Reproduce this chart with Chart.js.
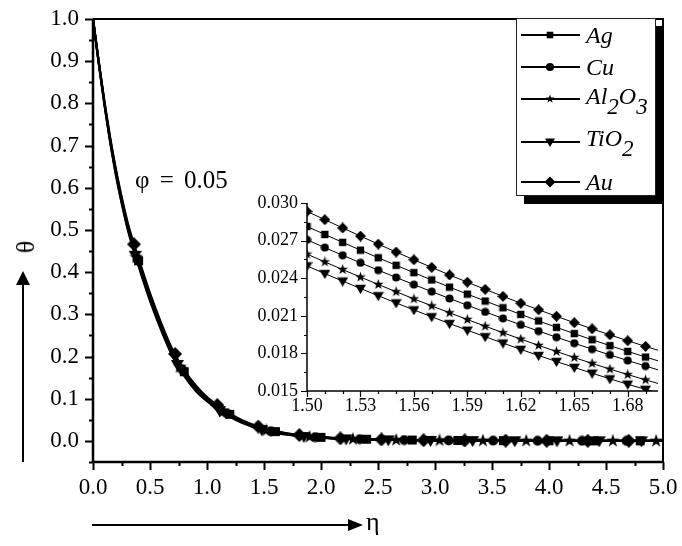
<!DOCTYPE html>
<html>
<head>
<meta charset="utf-8">
<script src="https://cdn.jsdelivr.net/npm/chart.js@4.4.1/dist/chart.umd.min.js"></script>
<style>
  body { margin: 0; background: #fff; }
  #wrap { position: relative; width: 682px; height: 546px; overflow: hidden;
          font-family: "Liberation Serif", "Times New Roman", serif; color: #000; }
  #main { position: absolute; left: 0; top: 0; }
  #inset { position: absolute; left: 240px; top: 191px; }
  #legend { position: absolute; left: 516px; top: 18px; width: 138px; height: 176px;
            background: #fff; border: 1px solid #222; box-shadow: 8px 8px 0 #000; }
  .row { position: absolute; left: 3px; height: 24px; display: flex; align-items: center; white-space: nowrap; }
  .row span { font-style: italic; font-size: 24px; line-height: 24px; margin-left: 4px; position: relative; }
  .row sub { font-size: 23px; vertical-align: baseline; position: relative; top: 0.45em; line-height: 0; }
  .txt { position: absolute; line-height: 1; white-space: nowrap; }
</style>
</head>
<body>
<div id="wrap">
  <canvas id="main" width="682" height="546"></canvas>
  <canvas id="inset" width="422" height="224"></canvas>
  <div id="legend"></div>
  <div class="txt" id="phi" style="left:135px;top:167px;font-size:25px;word-spacing:4px;">φ = 0.05</div>
  <div class="txt" style="left:26px;top:247px;font-size:26px;transform:translate(-50%,-50%) rotate(-90deg);">θ</div>
  <div class="txt" style="left:366px;top:509px;font-size:26px;">η</div>
</div>
<script>
// main curves, theta(eta)
const ETA = [0, 0.05, 0.1, 0.15, 0.2, 0.25, 0.3, 0.35, 0.4, 0.5, 0.6, 0.7, 0.8, 0.9, 1.0, 1.1, 1.2, 1.3, 1.4,
             1.5, 1.6, 1.7, 1.8, 1.9, 2.0, 2.25, 2.5, 2.75, 3.0, 3.5, 4.0, 4.5, 5.0];
const THETA_AG  = [1, 0.899, 0.803, 0.717, 0.642, 0.576, 0.518, 0.470, 0.427, 0.345, 0.274, 0.211, 0.164, 0.129, 0.101, 0.081, 0.063, 0.048, 0.0376,
                   0.0281, 0.0220, 0.0172, 0.0135, 0.0106, 0.0084, 0.0052, 0.0033, 0.0021, 0.0014, 0.0006, 0.0003, 0.0001, 0];
const THETA_CU  = [1, 0.898, 0.801, 0.714, 0.638, 0.572, 0.514, 0.465, 0.423, 0.341, 0.269, 0.207, 0.161, 0.126, 0.099, 0.078, 0.061, 0.0467, 0.0362,
                   0.0271, 0.0211, 0.0165, 0.0129, 0.0101, 0.0080, 0.0049, 0.0031, 0.0020, 0.0013, 0.0006, 0.0002, 0.0001, 0];
const THETA_AL  = [1, 0.896, 0.799, 0.711, 0.635, 0.568, 0.509, 0.461, 0.418, 0.336, 0.265, 0.203, 0.157, 0.122, 0.096, 0.076, 0.059, 0.0451, 0.0349,
                   0.0259, 0.0201, 0.0156, 0.0122, 0.0096, 0.0076, 0.0046, 0.0029, 0.0019, 0.0012, 0.0005, 0.0002, 0.0001, 0];
const THETA_TI  = [1, 0.895, 0.797, 0.709, 0.631, 0.565, 0.506, 0.457, 0.414, 0.332, 0.261, 0.199, 0.154, 0.119, 0.094, 0.074, 0.057, 0.0436, 0.0336,
                   0.0250, 0.0192, 0.0149, 0.0117, 0.0091, 0.0072, 0.0044, 0.0027, 0.0018, 0.0011, 0.0005, 0.0002, 0.0001, 0];
const THETA_AU  = [1, 0.900, 0.805, 0.720, 0.645, 0.580, 0.522, 0.474, 0.432, 0.350, 0.278, 0.215, 0.168, 0.132, 0.104, 0.083, 0.065, 0.050, 0.039,
                   0.0293, 0.0231, 0.0181, 0.0142, 0.0112, 0.0089, 0.0055, 0.0035, 0.0023, 0.0015, 0.0007, 0.0003, 0.0001, 0];

// where the symbols sit on each main curve
const MARK_ETA_AG = [0.40, 0.80, 1.20, 1.60, 2.00, 2.40, 2.80, 3.20, 3.60, 4.00, 4.40, 4.80];
const MARK_TH_AG  = [0.427, 0.164, 0.063, 0.022, 0.0084, 0.004, 0.002, 0.0011, 0.0006, 0.0003, 0.0001, 0.0001];
const MARK_ETA_CU = [0.39, 0.78, 1.17, 1.56, 1.95, 2.34, 2.73, 3.12, 3.51, 3.90, 4.29, 4.68];
const MARK_TH_CU  = [0.431, 0.170, 0.066, 0.023, 0.009, 0.0042, 0.002, 0.0012, 0.0006, 0.0003, 0.0001, 0.0001];
const MARK_ETA_AL = [0.38, 0.76, 1.14, 1.52, 1.90, 2.28, 2.66, 3.04, 3.42, 3.80, 4.18, 4.56, 4.94];
const MARK_TH_AL  = [0.435, 0.175, 0.069, 0.0247, 0.0096, 0.0043, 0.0022, 0.0012, 0.0006, 0.0003, 0.0002, 0.0001, 0];
const MARK_ETA_TI = [0.37, 0.74, 1.11, 1.48, 1.85, 2.22, 2.59, 2.96, 3.33, 3.70, 4.07, 4.44, 4.81];
const MARK_TH_TI  = [0.44, 0.181, 0.072, 0.0267, 0.0104, 0.0047, 0.0025, 0.0012, 0.0007, 0.0003, 0.0002, 0.0001, 0];
const MARK_ETA_AU = [0.36, 0.72, 1.09, 1.45, 1.81, 2.17, 2.53, 2.90, 3.26, 3.62, 3.98, 4.34, 4.70];
const MARK_TH_AU  = [0.466, 0.206, 0.085, 0.034, 0.0139, 0.006, 0.0034, 0.0017, 0.001, 0.0006, 0.0003, 0.0002, 0.0001];

// inset, eta 1.50 .. 1.70
const INSET_ETA = [1.50, 1.51, 1.52, 1.53, 1.54, 1.55, 1.56, 1.57, 1.58, 1.59, 1.60,
                   1.61, 1.62, 1.63, 1.64, 1.65, 1.66, 1.67, 1.68, 1.69, 1.70];
const INSET_AG = [0.02813, 0.02749, 0.02686, 0.02624, 0.02563, 0.02503, 0.02444, 0.02386, 0.02329, 0.02273, 0.02218,
                  0.02164, 0.02111, 0.02059, 0.02008, 0.01958, 0.01909, 0.01862, 0.01816, 0.01771, 0.01728];
const INSET_CU = [0.02706, 0.02644, 0.02583, 0.02523, 0.02464, 0.02406, 0.02349, 0.02293, 0.02238, 0.02184, 0.02131,
                  0.02079, 0.02028, 0.01978, 0.01929, 0.01881, 0.01834, 0.01788, 0.01743, 0.01699, 0.01656];
const INSET_AL = [0.02592, 0.02530, 0.02469, 0.02409, 0.02350, 0.02292, 0.02235, 0.02179, 0.02124, 0.02070, 0.02017,
                  0.01965, 0.01914, 0.01864, 0.01815, 0.01767, 0.01720, 0.01675, 0.01631, 0.01589, 0.01548];
const INSET_TI = [0.02498, 0.02437, 0.02377, 0.02318, 0.02260, 0.02203, 0.02147, 0.02092, 0.02038, 0.01985, 0.01933,
                  0.01882, 0.01832, 0.01783, 0.01735, 0.01688, 0.01642, 0.01597, 0.01554, 0.01513, 0.01474];
const INSET_AU = [0.02933, 0.02867, 0.02801, 0.02736, 0.02672, 0.02609, 0.02547, 0.02486, 0.02426, 0.02368, 0.02311,
                  0.02255, 0.02201, 0.02148, 0.02096, 0.02045, 0.01996, 0.01948, 0.01901, 0.01856, 0.01812];

// ticks
const MAIN_X_TICKS = [0, 0.5, 1.0, 1.5, 2.0, 2.5, 3.0, 3.5, 4.0, 4.5, 5.0];
const MAIN_Y_TICKS = [0, 0.1, 0.2, 0.3, 0.4, 0.5, 0.6, 0.7, 0.8, 0.9, 1.0];
const INSET_X_TICKS = [1.50, 1.53, 1.56, 1.59, 1.62, 1.65, 1.68];
const INSET_Y_TICKS = [0.015, 0.018, 0.021, 0.024, 0.027, 0.030];

const SERIES = [
  { key: 'ag', label: 'Ag',                   shape: 'square',  main: THETA_AG, mx: MARK_ETA_AG, my: MARK_TH_AG, inset: INSET_AG },
  { key: 'cu', label: 'Cu',                   shape: 'circle',  main: THETA_CU, mx: MARK_ETA_CU, my: MARK_TH_CU, inset: INSET_CU },
  { key: 'al', label: 'Al<sub>2</sub>O<sub>3</sub>', shape: 'star', main: THETA_AL, mx: MARK_ETA_AL, my: MARK_TH_AL, inset: INSET_AL },
  { key: 'ti', label: 'TiO<sub>2</sub>',      shape: 'triDown', main: THETA_TI, mx: MARK_ETA_TI, my: MARK_TH_TI, inset: INSET_TI },
  { key: 'au', label: 'Au',                   shape: 'diamond', main: THETA_AU, mx: MARK_ETA_AU, my: MARK_TH_AU, inset: INSET_AU },
];

// symbol sizes (px box) for main plot, inset and legend
const SIZES = {
  main:   { square: 11, circle: 11, star: 14, triDown: 13, diamond: 14 },
  inset:  { square: 9,  circle: 9,  star: 11, triDown: 11, diamond: 11 },
  legend: { square: 8,  circle: 9,  star: 9,  triDown: 10, diamond: 11 },
};

function drawShape(g, shape, cx, cy, s) {
  const h = s / 2;
  g.beginPath();
  if (shape === 'square') {
    const a = h * 0.82;
    g.rect(cx - a, cy - a, 2 * a, 2 * a);
  } else if (shape === 'circle') {
    g.arc(cx, cy, h * 0.9, 0, Math.PI * 2);
  } else if (shape === 'star') {
    for (let i = 0; i < 10; i++) {
      const r = i % 2 ? h * 0.4 : h;
      const t = -Math.PI / 2 + i * Math.PI / 5;
      g.lineTo(cx + r * Math.cos(t), cy + r * Math.sin(t));
    }
    g.closePath();
  } else if (shape === 'triDown') {
    g.moveTo(cx - h, cy - h * 0.7);
    g.lineTo(cx + h, cy - h * 0.7);
    g.lineTo(cx, cy + h);
    g.closePath();
  } else if (shape === 'diamond') {
    g.moveTo(cx, cy - h);
    g.lineTo(cx + h, cy);
    g.lineTo(cx, cy + h);
    g.lineTo(cx - h, cy);
    g.closePath();
  }
  g.fillStyle = '#000';
  g.fill();
}

function markerCanvas(shape, size) {
  const c = document.createElement('canvas');
  c.width = size; c.height = size;
  drawShape(c.getContext('2d'), shape, size / 2, size / 2, size);
  return c;
}

// ticks, minor ticks and axis lines drawn by hand (Origin style, ticks outward)
const axisFrame = {
  id: 'axisFrame',
  afterDraw(chart, args, o) {
    const { ctx, chartArea: a, scales: { x, y } } = chart;
    const mid = arr => arr.slice(1).map((v, i) => (v + arr[i]) / 2);
    ctx.save();
    ctx.strokeStyle = '#000';
    ctx.lineWidth = o.tickWidth;
    ctx.beginPath();
    const xt = (vals, len) => vals.forEach(v => {
      const p = Math.round(x.getPixelForValue(v)) + 0.5;
      ctx.moveTo(p, a.bottom); ctx.lineTo(p, a.bottom + len);
    });
    const yt = (vals, len) => vals.forEach(v => {
      const p = Math.round(y.getPixelForValue(v)) + 0.5;
      ctx.moveTo(a.left, p); ctx.lineTo(a.left - len, p);
    });
    xt(o.xTicks, o.major);
    xt(o.xMinor || mid(o.xTicks), o.minor);
    yt(o.yTicks, o.major);
    yt(o.yMinor || mid(o.yTicks), o.minor);
    ctx.stroke();
    ctx.lineWidth = o.axisWidth;
    ctx.beginPath();
    ctx.moveTo(a.left, a.top); ctx.lineTo(a.left, a.bottom); ctx.lineTo(a.right, a.bottom);
    ctx.stroke();
    if (o.box) {
      ctx.lineWidth = o.boxWidth;
      ctx.beginPath();
      ctx.moveTo(a.left, a.top); ctx.lineTo(a.right, a.top); ctx.lineTo(a.right, a.bottom);
      ctx.stroke();
    }
    ctx.restore();
  }
};

// the two axis arrows outside the frame
const arrows = {
  id: 'arrows',
  afterDraw(chart) {
    const ctx = chart.ctx;
    ctx.save();
    ctx.strokeStyle = '#000'; ctx.fillStyle = '#000'; ctx.lineWidth = 2;
    ctx.beginPath();
    ctx.moveTo(23, 462); ctx.lineTo(23, 282);
    ctx.moveTo(92, 525); ctx.lineTo(350, 525);
    ctx.stroke();
    ctx.beginPath();
    ctx.moveTo(23, 271); ctx.lineTo(30, 285); ctx.lineTo(16, 285); ctx.closePath();
    ctx.moveTo(363, 525); ctx.lineTo(348, 519); ctx.lineTo(348, 531); ctx.closePath();
    ctx.fill();
    ctx.restore();
  }
};

const FONT_FAMILY = '"Liberation Serif", "Times New Roman", serif';

function fixedTicks(list) {
  return scale => { scale.ticks = list.map(v => ({ value: v })); };
}
// fixed axis thickness, and no extra room for overhanging end labels
function fitX(h) {
  return sc => { sc.height = h; sc.paddingLeft = 0; sc.paddingRight = 0; };
}
function fitY(w) {
  return sc => { sc.width = w; sc.paddingTop = 0; sc.paddingBottom = 0; };
}

// ---- main chart
const mainSets = [];
SERIES.forEach(s => {
  mainSets.push({
    data: ETA.map((x, i) => ({ x, y: s.main[i] })),
    borderColor: '#000', borderWidth: 2.2, pointRadius: 0,
    cubicInterpolationMode: 'monotone', fill: false,
  });
});
SERIES.forEach(s => {
  mainSets.push({
    data: s.mx.map((x, i) => ({ x, y: s.my[i] })),
    showLine: false, pointRadius: 6, borderWidth: 0,
    pointStyle: markerCanvas(s.shape, SIZES.main[s.shape]),
  });
});

new Chart(document.getElementById('main'), {
  type: 'line',
  data: { datasets: mainSets },
  plugins: [axisFrame, arrows],
  options: {
    responsive: false, animation: false, events: [],
    layout: { padding: { top: 19, right: 19, left: 0, bottom: 0 } },
    plugins: {
      legend: { display: false }, tooltip: { enabled: false },
      axisFrame: { xTicks: MAIN_X_TICKS, yTicks: MAIN_Y_TICKS, yMinor: [-0.05, 0.05, 0.15, 0.25, 0.35, 0.45, 0.55, 0.65, 0.75, 0.85, 0.95],
                   major: 8, minor: 4, tickWidth: 2, axisWidth: 2.5, box: true, boxWidth: 2 },
    },
    scales: {
      x: {
        type: 'linear', min: 0, max: 5,
        grid: { display: false, drawTicks: false }, border: { display: false },
        afterBuildTicks: fixedTicks(MAIN_X_TICKS),
        afterFit: fitX(84),
        ticks: { color: '#000', padding: 12, maxRotation: 0, autoSkip: false,
                 font: { family: FONT_FAMILY, size: 23 }, callback: v => v.toFixed(1) },
      },
      y: {
        type: 'linear', min: -0.05, max: 1.0,
        grid: { display: false, drawTicks: false }, border: { display: false },
        afterBuildTicks: fixedTicks(MAIN_Y_TICKS),
        afterFit: fitY(93),
        ticks: { color: '#000', padding: 14, autoSkip: false,
                 font: { family: FONT_FAMILY, size: 23 }, callback: v => v.toFixed(1) },
      },
    },
  },
});

// ---- inset
new Chart(document.getElementById('inset'), {
  type: 'line',
  data: {
    datasets: SERIES.map(s => ({
      data: INSET_ETA.map((x, i) => ({ x, y: s.inset[i] })),
      borderColor: '#000', borderWidth: 1, pointRadius: 4, pointBorderWidth: 0,
      pointStyle: markerCanvas(s.shape, SIZES.inset[s.shape]),
    })),
  },
  plugins: [axisFrame],
  options: {
    responsive: false, animation: false, events: [],
    layout: { padding: { top: 12, right: 0, left: 0, bottom: 0 } },
    plugins: {
      legend: { display: false }, tooltip: { enabled: false },
      axisFrame: { xTicks: INSET_X_TICKS, xMinor: [1.51, 1.52, 1.54, 1.55, 1.57, 1.58, 1.60, 1.61, 1.63, 1.64, 1.66, 1.67, 1.69],
                   yTicks: INSET_Y_TICKS, major: 6, minor: 3, tickWidth: 1.2, axisWidth: 1.5, box: false },
    },
    scales: {
      x: {
        type: 'linear', min: 1.5, max: 1.697,
        grid: { display: false, drawTicks: false }, border: { display: false },
        afterBuildTicks: fixedTicks(INSET_X_TICKS),
        afterFit: fitX(24),
        ticks: { color: '#000', padding: 4, maxRotation: 0, autoSkip: false,
                 font: { family: FONT_FAMILY, size: 18 }, callback: v => v.toFixed(2) },
      },
      y: {
        type: 'linear', min: 0.015, max: 0.030,
        grid: { display: false, drawTicks: false }, border: { display: false },
        afterBuildTicks: fixedTicks(INSET_Y_TICKS),
        afterFit: fitY(67),
        ticks: { color: '#000', padding: 9, autoSkip: false,
                 font: { family: FONT_FAMILY, size: 18 }, callback: v => v.toFixed(3) },
      },
    },
  },
});

// ---- legend (html so the subscripts stay real text)
const LEGEND_ROW_TOPS = [4, 36, 68, 111, 151];
const LEGEND_TEXT_SHIFT = [0, 0, -3, -4, 0];
const legend = document.getElementById('legend');
SERIES.forEach((s, i) => {
  const row = document.createElement('div');
  row.className = 'row';
  row.style.top = LEGEND_ROW_TOPS[i] + 'px';
  const c = document.createElement('canvas');
  c.width = 62; c.height = 24;
  const g = c.getContext('2d');
  g.strokeStyle = '#000'; g.lineWidth = 2;
  g.beginPath(); g.moveTo(1, 12); g.lineTo(60, 12); g.stroke();
  drawShape(g, s.shape, 30, 12, SIZES.legend[s.shape]);
  const t = document.createElement('span');
  t.innerHTML = s.label;
  t.style.top = LEGEND_TEXT_SHIFT[i] + 'px';
  row.appendChild(c); row.appendChild(t);
  legend.appendChild(row);
});
</script>
</body>
</html>
